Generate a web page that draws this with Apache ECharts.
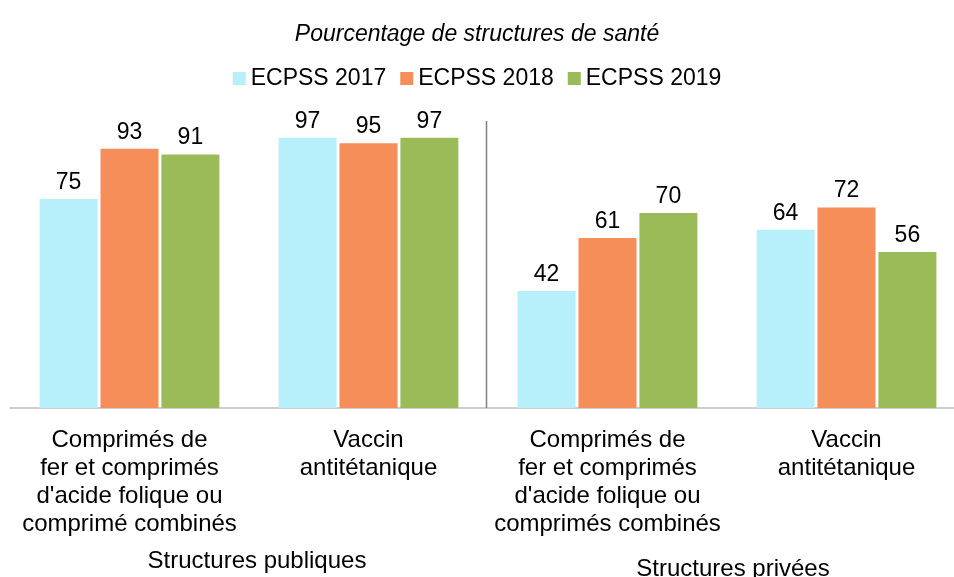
<!DOCTYPE html>
<html>
<head>
<meta charset="utf-8">
<script src="https://cdn.jsdelivr.net/npm/echarts@6/dist/echarts.min.js"></script>
<style>
html,body{margin:0;padding:0;background:#fff;}
#main{width:954px;height:577px;}
</style>
</head>
<body>
<div id="main"></div>
<script>
const titleText = 'Pourcentage de structures de santé';
const categories = [
  "Comprimés de\nfer et comprimés\nd'acide folique ou\ncomprimé combinés",
  "Vaccin\nantitétanique",
  "Comprimés de\nfer et comprimés\nd'acide folique ou\ncomprimés combinés",
  "Vaccin\nantitétanique"
];
const groupLabels = ['Structures publiques', 'Structures privées'];
const seriesNames = ['ECPSS 2017', 'ECPSS 2018', 'ECPSS 2019'];
const ecpss2017 = [75, 97, 42, 64];
const ecpss2018 = [93, 95, 61, 72];
const ecpss2019 = [91, 97, 70, 56];
const colors = ['#B7EFFB', '#F68E59', '#9BBB59'];

const FONT = '"Liberation Sans", Arial, sans-serif';
const chart = echarts.init(document.getElementById('main'));
const values = [ecpss2017, ecpss2018, ecpss2019];

chart.setOption({
  animation: false,
  backgroundColor: '#fff',
  textStyle: { fontFamily: FONT, color: '#000' },
  title: {
    text: titleText,
    left: 'center',
    top: 18,
    textStyle: { fontFamily: FONT, fontStyle: 'italic', fontWeight: 'normal', fontSize: 23, color: '#000' }
  },
  legend: {
    top: 62,
    left: 'center',
    icon: 'rect',
    itemWidth: 13,
    itemHeight: 13,
    itemGap: 14,
    textStyle: { fontFamily: FONT, fontSize: 23, color: '#000' },
    data: seriesNames
  },
  grid: { left: 10, width: 956, top: 121, bottom: 169, containLabel: false, outerBoundsMode: 'none' },
  xAxis: {
    type: 'category',
    data: categories,
    axisLine: { lineStyle: { color: '#BFBFBF', width: 1.5 } },
    axisTick: { show: false },
    axisLabel: { interval: 0, fontFamily: FONT, fontSize: 24, lineHeight: 28, color: '#000', margin: 18 },
    splitLine: { show: false }
  },
  yAxis: { type: 'value', min: 0, max: 103, show: false, splitLine: { show: false } },
  series: seriesNames.map((n, k) => ({
    name: n,
    type: 'bar',
    data: values[k],
    barWidth: 58,
    barGap: '5%',
    itemStyle: { color: colors[k] },
    label: { show: true, position: 'top', distance: 5, fontFamily: FONT, fontSize: 23, color: '#000' }
  }))
});

// separator between the two groups of structures, placed from the axis scales
const xa = chart.convertToPixel({ xAxisIndex: 0 }, 1);
const xb = chart.convertToPixel({ xAxisIndex: 0 }, 2);
const sepX = Math.round((xa + xb) / 2) - 1.5;
const yTop = chart.convertToPixel({ yAxisIndex: 0 }, 103);
const yBot = chart.convertToPixel({ yAxisIndex: 0 }, 0);
const x0 = chart.convertToPixel({ xAxisIndex: 0 }, 0);
const x3 = chart.convertToPixel({ xAxisIndex: 0 }, 3);
chart.setOption({
  graphic: [
    { type: 'line', shape: { x1: sepX, y1: yTop, x2: sepX, y2: yBot }, style: { stroke: '#808080', lineWidth: 1.5 }, z: 10 },
    { type: 'text', x: (x0 + xa) / 2 + 8, y: 561, style: { text: groupLabels[0], fontFamily: FONT, fontSize: 24, fill: '#000', align: 'center', verticalAlign: 'middle' } },
    { type: 'text', x: (xb + x3) / 2 + 6, y: 569, style: { text: groupLabels[1], fontFamily: FONT, fontSize: 24, fill: '#000', align: 'center', verticalAlign: 'middle' } }
  ]
});
</script>
</body>
</html>
